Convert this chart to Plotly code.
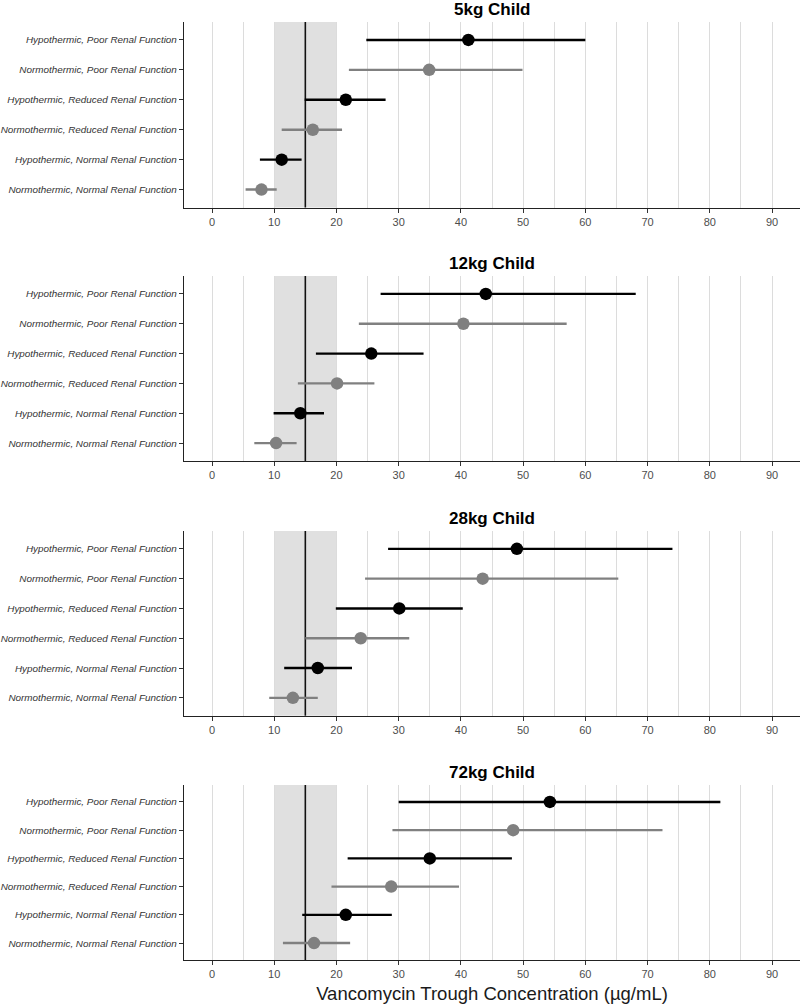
import plotly.graph_objects as go

categories = [
    "Hypothermic, Poor Renal Function",
    "Normothermic, Poor Renal Function",
    "Hypothermic, Reduced Renal Function",
    "Normothermic, Reduced Renal Function",
    "Hypothermic, Normal Renal Function",
    "Normothermic, Normal Renal Function",
]
panel_titles = ["5kg Child", "12kg Child", "28kg Child", "72kg Child"]

mid_5kg = [41.2, 34.9, 21.5, 16.2, 11.2, 7.95]
low_5kg = [24.8, 22.0, 14.9, 11.2, 7.7, 5.4]
high_5kg = [60.0, 49.9, 27.9, 20.9, 14.4, 10.4]

mid_12kg = [44.0, 40.4, 25.6, 20.1, 14.2, 10.3]
low_12kg = [27.1, 23.6, 16.7, 13.8, 9.9, 6.8]
high_12kg = [68.1, 57.0, 34.0, 26.1, 18.0, 13.6]

mid_28kg = [49.0, 43.5, 30.1, 23.9, 17.0, 13.0]
low_28kg = [28.3, 24.6, 19.9, 15.0, 11.6, 9.2]
high_28kg = [74.0, 65.3, 40.3, 31.7, 22.5, 17.0]

mid_72kg = [54.3, 48.4, 35.0, 28.8, 21.5, 16.4]
low_72kg = [30.0, 29.0, 21.8, 19.2, 14.5, 11.4]
high_72kg = [81.7, 72.4, 48.2, 39.7, 28.9, 22.2]

target_low, target_line, target_high = 10, 15, 20
x_ticks = list(range(0, 100, 10))
x_minor = [v for v in range(5, 100, 10) if not (target_low < v < target_high)]
x_title = "Vancomycin Trough Concentration (µg/mL)"

panels = [
    (mid_5kg, low_5kg, high_5kg),
    (mid_12kg, low_12kg, high_12kg),
    (mid_28kg, low_28kg, high_28kg),
    (mid_72kg, low_72kg, high_72kg),
]

H = 1004.0
W = 800.0
# pixel extents (top, bottom) of each panel's plotting area
panel_px = [(22, 207.5), (276, 461), (531, 715.7), (785, 960)]
x_dom = [184 / W, 1.0]

FONT = "Liberation Sans, Arial, Helvetica, sans-serif"
BLACK = "#000000"
GREY = "#808080"

fig = go.Figure()
cat_order = categories[::-1]  # bottom-to-top

for i, ((mid, low, high), title) in enumerate(zip(panels, panel_titles)):
    n = i + 1
    xa = "x" if n == 1 else f"x{n}"
    ya = "y" if n == 1 else f"y{n}"
    for parity, col in [(1, GREY), (0, BLACK)]:
        idx = [k for k in range(len(categories)) if k % 2 == parity]
        fig.add_trace(go.Scatter(
            x=[mid[k] for k in idx],
            y=[categories[k] for k in idx],
            mode="markers",
            marker=dict(size=12.5, color=col, line=dict(width=0)),
            error_x=dict(
                type="data", symmetric=False,
                array=[high[k] - mid[k] for k in idx],
                arrayminus=[mid[k] - low[k] for k in idx],
                color=col, thickness=2.4, width=0,
            ),
            xaxis=xa, yaxis=ya, showlegend=False, hoverinfo="x+y",
        ))
    top, bot = panel_px[i]
    ydom = [1 - bot / H, 1 - top / H]
    xkey = "xaxis" if n == 1 else f"xaxis{n}"
    ykey = "yaxis" if n == 1 else f"yaxis{n}"
    fig.update_layout({
        xkey: dict(
            domain=x_dom, anchor=ya, range=[-4.5, 94.5],
            tickmode="array", tickvals=x_ticks, ticktext=[str(t) for t in x_ticks],
            showgrid=True, gridcolor="#dcdcdc", gridwidth=1,
            minor=dict(tickmode="array", tickvals=x_minor, showgrid=True,
                       gridcolor="#dcdcdc", gridwidth=1, ticks=""),
            zeroline=False, showline=True, linecolor="#222222", linewidth=1.3,
            ticks="outside", ticklen=4, tickwidth=1, tickcolor="#333333",
            tickfont=dict(family=FONT, size=11, color="#4d4d4d"),
            automargin=False,
            title=dict(text=x_title if n == 4 else "",
                       font=dict(family=FONT, size=18.5, color="#1a1a1a"), standoff=8),
        ),
        ykey: dict(
            domain=ydom, anchor=xa, type="category",
            categoryorder="array", categoryarray=cat_order, range=[-0.6, 5.6],
            showgrid=False, zeroline=False, showline=True, linecolor="#222222", linewidth=1.3,
            ticks="outside", ticklen=4, tickwidth=1, tickcolor="#333333",
            tickfont=dict(family=FONT, size=9.9, color="#333333", style="italic"),
            automargin=False,
        ),
    })
    fig.add_shape(type="rect", xref=xa, yref=f"{ya} domain",
                  x0=target_low, x1=target_high, y0=0, y1=1,
                  fillcolor="#e0e0e0", line=dict(width=0), layer="below")
    fig.add_shape(type="line", xref=xa, yref=f"{ya} domain",
                  x0=target_line, x1=target_line, y0=0, y1=1,
                  line=dict(color="#111111", width=1.6), layer="below")
    fig.add_annotation(text=f"<b>{title}</b>", xref="paper", yref="paper",
                       x=(x_dom[0] + x_dom[1]) / 2, y=1 - (top - 12.5) / H,
                       xanchor="center", yanchor="middle", showarrow=False,
                       font=dict(family=FONT, size=17, color="#000000"))

fig.update_layout(
    width=800, height=1004,
    margin=dict(l=0, r=0, t=0, b=0),
    paper_bgcolor="white", plot_bgcolor="white",
    showlegend=False,
)

fig.write_html("out.html", config={"displayModeBar": False},
               post_script="document.body.style.margin='0px';document.body.style.overflow='hidden';")
